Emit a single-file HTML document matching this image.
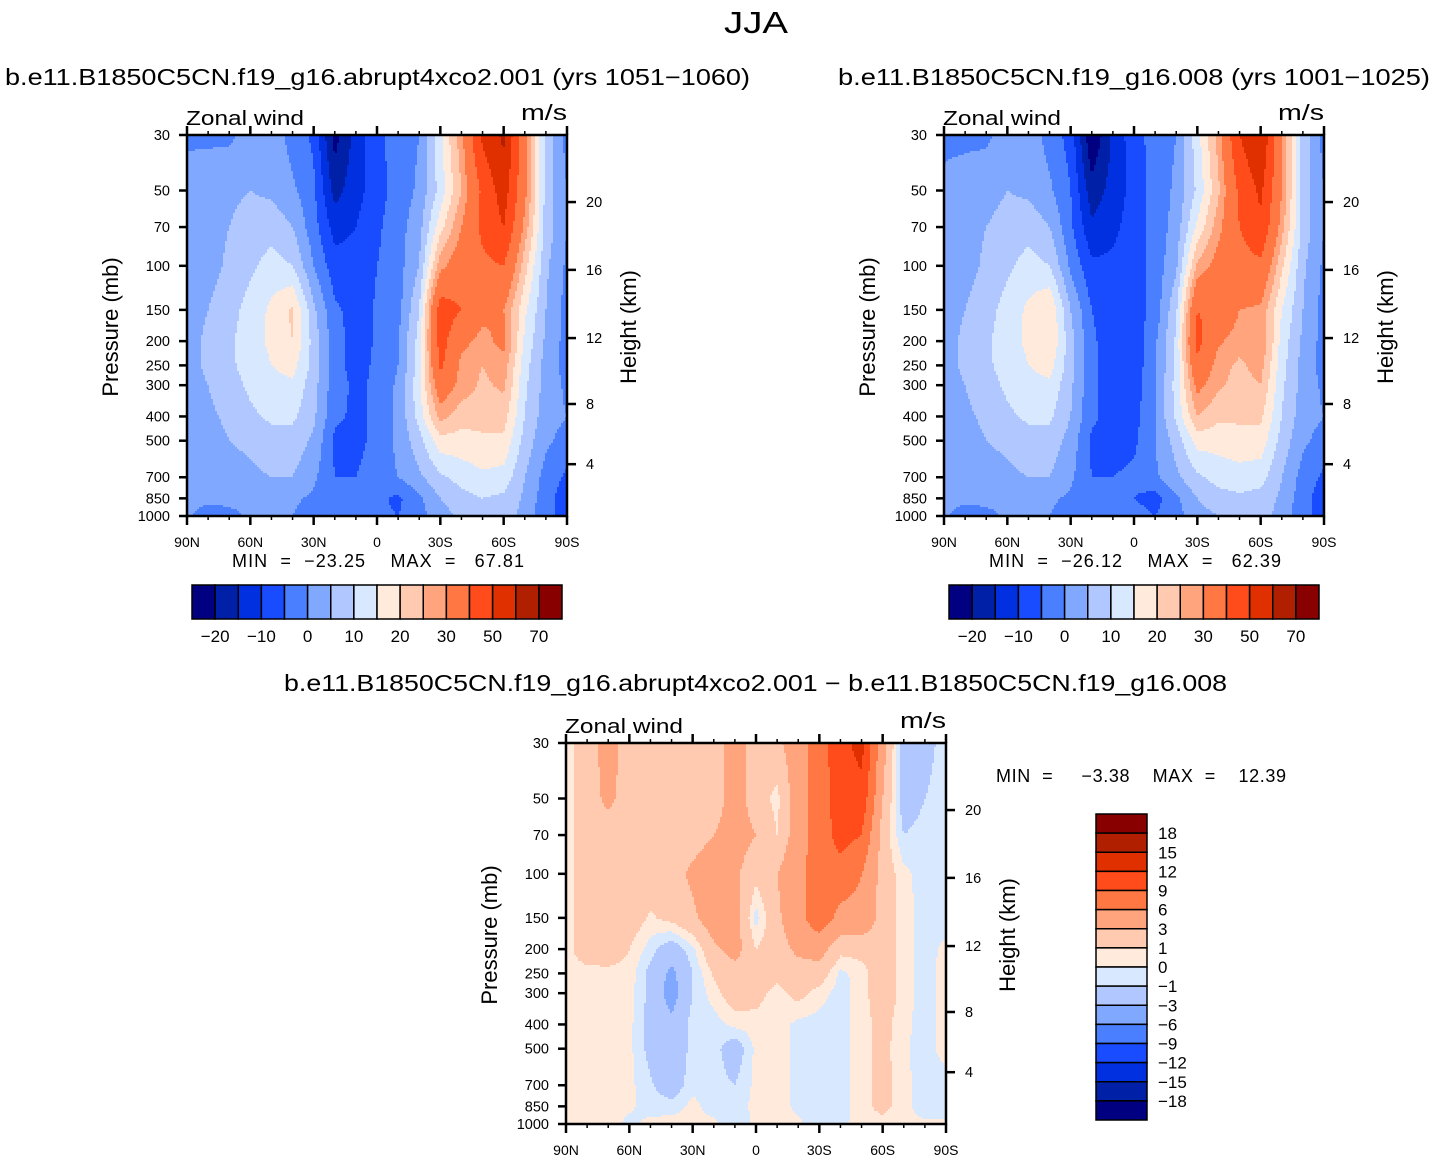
<!DOCTYPE html>
<html><head><meta charset="utf-8"><title>JJA Zonal wind</title>
<style>
html,body{margin:0;padding:0;background:#fff;}
svg{display:block;font-family:"Liberation Sans",sans-serif;}
</style></head>
<body>
<svg id="fig" width="1434" height="1161" viewBox="0 0 1434 1161" xmlns="http://www.w3.org/2000/svg">
<text x="756" y="33" font-size="31" text-anchor="middle" textLength="64" lengthAdjust="spacingAndGlyphs">JJA</text>
<text x="5" y="85" font-size="23" textLength="745" lengthAdjust="spacingAndGlyphs">b.e11.B1850C5CN.f19_g16.abrupt4xco2.001  (yrs  1051−1060)</text>
<text x="838" y="85" font-size="23" textLength="592" lengthAdjust="spacingAndGlyphs">b.e11.B1850C5CN.f19_g16.008  (yrs  1001−1025)</text>
<text x="284" y="691" font-size="23" textLength="943" lengthAdjust="spacingAndGlyphs">b.e11.B1850C5CN.f19_g16.abrupt4xco2.001  −  b.e11.B1850C5CN.f19_g16.008</text>
<g id="layer"></g>
</svg>
<script>
// ---- data ----
const lats = [90,80,70,60,50,40,30,20,10,0,-10,-20,-30,-40,-50,-60,-70,-80,-90];
const plevs = [30,50,70,100,150,200,250,300,400,500,700,850,1000];
const xTickLabels = ["90N","60N","30N","0","30S","60S","90S"];
const pTickLabels = ["30","50","70","100","150","200","250","300","400","500","700","850","1000"];
const hTickLabels = ["4","8","12","16","20"];
const hTickFrac = [0.864,0.706,0.533,0.354,0.176];
const absLevels = [-20,-15,-10,-5,0,5,10,15,20,25,30,40,50,60,70];
const absLabels = ["−20","−10","0","10","20","30","50","70"];
const diffLevels = [-18,-15,-12,-9,-6,-3,-1,0,1,3,6,9,12,15,18];
const diffLabels = ["18","15","12","9","6","3","1","0","−1","−3","−6","−9","−12","−15","−18"];
const palette = ["#000080","#0020a8","#0030e0","#1a4cff","#4a80ff","#80a8ff","#b0c8ff","#d8e9ff","#ffeadb","#ffcab0","#ffa47c","#ff7844","#ff4c1a","#e03000","#b02000","#880000"];

const fieldLeft = [
 [-1,-1,-1,2,3,-2,-6,-22,-13,-6,-3,0,14,28,52,62,32,8,-2],
 [2.5,3,4,5,4,1,-4,-17,-12,-7,-3,1,12,25,42,55,32,8,0],
 [2.5,3,5,7,8,5,-3,-12,-10,-6,-2,3,18,30,42,50,28,8,0],
 [2,3,6,9,12,10,0,-8,-8,-5,-2,5,28,35,38,40,22,6,-1],
 [3,5,8,12,16,21,6,-4,-7,-4.5,-2,10,45,40,32,30,16,5,-2],
 [3,6,9,13,16,20,8,-3,-7,-4.5,0,12,44,32,28,32,14,4,-2],
 [3,6,9,12,15,17,8,-3,-7,-4,0,12,42,28,25,28,12,3,-2],
 [3,5,8,11,13,14,7,-3,-6,-4,1,14,35,28,24,26,11,3,-1],
 [2,4,6,9,11,11,6,-4,-6,-4,1,12,27,22,22,22,10,2,0],
 [2,3,5,6,8,8,4,-6,-7,-3,1,8,18,18,19,19,8,1,-2],
 [2,3,3,4,5,5,1,-5,-5,-2,0,4,9,12,14,13,5,-2,-6],
 [3,2,2,2,2,1,-1,-3,-3,-4,-6,-1,5,8,10,9,4,-3,-8],
 [1,-4,-2,1,1,0,-3,-3,-2,-4,-5,-2,3,6,8,8,3,-4,-6]
];
const fieldRight = [
 [-1,-1,-1,2,3,-2,-7,-25,-14,-7,-3,0,13,27,50,60,30,8,-2],
 [1,2,3,5,4,1,-5,-18,-13,-8,-3,1,11,24,42,52,30,8,0],
 [2.5,3,5,7,8,5,-4,-14,-11,-8,-3,2,16,28,40,48,27,8,0],
 [2,3,6,9,12,10,-1,-9,-9,-8,-3,4,26,33,36,38,21,6,-1],
 [3,5,8,12,16,20,5,-5,-8,-8,-3,9,40,38,30,29,15,5,-2],
 [3,6,9,13,16,20,7,-4,-8,-8,-1,11,43,31,27,30,13,4,-2],
 [3,6,9,12,15,17,7,-4,-8,-8,-1,11,38,27,24,27,12,3,-2],
 [3,5,8,11,13,14,6,-4,-7,-8,0,12,32,26,23,25,11,3,-1],
 [2,4,6,9,11,11,5,-4,-7,-7,0,11,25,21,21,21,10,2,0],
 [2,3,5,6,8,8,3,-6,-7,-6,0,7,17,17,18,18,8,1,-2],
 [2,3,3,4,5,5,1,-5,-5,-4,-1,4,9,12,13,12,5,-2,-6],
 [3,2,2,2,2,1,-1,-4,-4,-5,-7,-1,5,8,9,8,4,-3,-8],
 [1,-4,-2,1,1,0,-3,-4,-2,-3,-5,-2,3,5,7,7,3,-4,-6]
];
const fieldDiff = [
 [0.5,2,4,2,2,2,2,2,4,2,2.5,4.5,7.5,11,13,4,-2,-1.5,-0.5],
 [0.5,2,3.5,2,2,2,2,2,4,2,0.5,4.5,7.5,10.5,11,3,-2,-1,-0.5],
 [0.5,2,2,2,2,2,2,3,4,3,1,4.5,7.5,10,9,2,-1,-0.5,-0.3],
 [0.5,2,2,2,2,2,3.5,4.5,3.5,1.5,3,5,8,8,6,2,0.3,-0.5,-0.5],
 [0.5,2,2,2,0.8,1.5,2.5,4.5,4,-0.5,2.5,5,8,5,5,2,0.5,-0.5,-0.5],
 [0.5,2,2,1,-0.5,-2,-0.3,2.5,4,1,2,3.5,4,1.5,1.5,2,0.5,-0.5,0.3],
 [0.5,0.5,0.6,0.6,-1.5,-3.5,-1,1.2,2,2,1.5,2,2,-0.3,0.5,2,0.5,-0.5,0.5],
 [0.5,0.5,0.5,0.5,-1.5,-4,-1,0.5,2,1.5,0.5,1.5,0.5,-0.5,0.5,2,0.5,-0.5,0.5],
 [0.5,0.5,0.5,0.3,-1.5,-2.5,-0.5,-0.5,0.3,0.5,0.5,-0.3,-0.5,-0.5,0.5,1.5,0.3,-0.5,0.5],
 [0.5,0.5,0.5,0.3,-1.5,-2.5,-0.5,-0.5,-2,0.3,0.5,-0.3,-0.5,-0.5,0.5,1.5,0.2,-0.5,0.5],
 [0.5,0.5,0.5,0.3,-0.8,-2,-0.3,-0.5,-1,0.3,0.5,-0.3,-0.5,-0.5,0.5,1.5,0.3,-0.5,-0.5],
 [0.5,0.5,0.5,0.2,-0.5,-0.5,0.3,-0.5,-0.5,0.3,0.5,-0.3,-0.5,-0.5,0.5,1.5,0.3,-0.5,0],
 [0.5,0.5,0.5,-0.3,0.3,0.5,0.3,0.3,-1,0.3,0.5,0.3,-1,-0.3,0.5,0.5,0.3,0.2,0]
];

// ---- drawing ----
const NS = "http://www.w3.org/2000/svg";
const layer = document.getElementById("layer");
function mk(tag, attrs, parent){
  const e = document.createElementNS(NS, tag);
  for (const k in attrs) e.setAttribute(k, attrs[k]);
  (parent||layer).appendChild(e);
  return e;
}
const LP0 = Math.log(30), LP1 = Math.log(1000);
function classOf(v, levels){ let k=0; while(k<levels.length && v>=levels[k]) k++; return k; }
function sample(field, lat, lp){
  let fx = (90-lat)/10; let i = Math.min(17, Math.floor(fx)); let tx = fx - i;
  let j = 0; while (j < plevs.length-2 && Math.log(plevs[j+1]) < lp) j++;
  const a = Math.log(plevs[j]), b = Math.log(plevs[j+1]);
  let ty = Math.max(0, Math.min(1, (lp-a)/(b-a)));
  const v00=field[j][i], v01=field[j][i+1], v10=field[j+1][i], v11=field[j+1][i+1];
  return (v00*(1-tx)+v01*tx)*(1-ty) + (v10*(1-tx)+v11*tx)*ty;
}

function panel(name, X, Y, field, levels, minmax){
  const W = 380, H = 381;
  const g = mk("g", {});
  
  
  const xScale = lat => X + (90-lat)/180*W;
  const yScale = p => Y + (Math.log(p)-LP0)/(LP1-LP0)*H;
  const cell = 2, nx = W/cell|0, ny = Math.ceil(H/cell);
  const fill = mk("g", {}, g);
  
  
  for (let r=0; r<ny; r++){
    const yy = Y + r*cell + cell/2;
    const lp = LP0 + (yy-Y)/H*(LP1-LP0);
    let runStart = 0, runCls = -1;
    for (let c=0; c<=nx; c++){
      let cls = -2;
      if (c<nx){
        const lat = 90 - (c*cell+cell/2)/W*180;
        cls = classOf(sample(field, lat, lp), levels);
      }
      if (cls !== runCls){
        if (runCls >= 0){
          mk("rect", {x:X+runStart*cell, y:Y+r*cell, width:(c-runStart)*cell+0.4, height:Math.min(cell+0.4, Y+H-(Y+r*cell)), fill:palette[runCls]}, fill);
        }
        runStart = c; runCls = cls;
      }
    }
  }
  const fr = mk("rect", {x:X, y:Y, width:W, height:H, fill:"none", stroke:"#000", "stroke-width":2.5}, g);
  
  
  for (let k=0; k<=18; k++){
    const lat = 90 - k*10, x = xScale(lat), major = k%3===0, L = major?9:4;
    mk("line", {x1:x, x2:x, y1:Y, y2:Y-L, stroke:"#000", "stroke-width":major?2.5:1.5}, g);
    mk("line", {x1:x, x2:x, y1:Y+H, y2:Y+H+L, stroke:"#000", "stroke-width":major?2.5:1.5}, g);
  }
  xTickLabels.forEach((t,k)=>{
    const tx = mk("text", {x:xScale(90-k*30), y:Y+H+31, "font-size":14, "text-anchor":"middle"}, g);
    tx.textContent = t;
    
    
  });
  plevs.forEach((p,k)=>{
    const y = yScale(p);
    mk("line", {x1:X-8, x2:X, y1:y, y2:y, stroke:"#000", "stroke-width":2.5}, g);
    const tx = mk("text", {x:X-17, y:y+5, "font-size":14.5, "text-anchor":"end"}, g);
    tx.textContent = pTickLabels[k];
    
    
  });
  hTickLabels.forEach((t,k)=>{
    const y = Y + hTickFrac[k]*H;
    mk("line", {x1:X+W, x2:X+W+9, y1:y, y2:y, stroke:"#000", "stroke-width":2.5}, g);
    const tx = mk("text", {x:X+W+19, y:y+5, "font-size":14.5}, g);
    tx.textContent = t;
    
    
  });
  const zl = mk("text", {x:X-1, y:Y-10, "font-size":20, textLength:118, lengthAdjust:"spacingAndGlyphs"}, g); zl.textContent = "Zonal wind";
   
  const ul = mk("text", {x:X+W, y:Y-15, "font-size":22, "text-anchor":"end", textLength:46, lengthAdjust:"spacingAndGlyphs"}, g); ul.textContent = "m/s";
   
  const yt = mk("text", {x:0, y:0, "font-size":22, "text-anchor":"middle", transform:`translate(${X-69},${Y+192}) rotate(-90)`}, g);
  yt.textContent = "Pressure  (mb)";
   
  const ht = mk("text", {x:0, y:0, "font-size":22, "text-anchor":"middle", transform:`translate(${X+W+69},${Y+192}) rotate(-90)`}, g);
  ht.textContent = "Height  (km)";
   
  if (minmax){
    const mm = mk("text", {x:minmax[0], y:minmax[1], "font-size":18, textLength:minmax[3], lengthAdjust:"spacing"}, g);
    mm.setAttribute("style","white-space:pre");
    mm.textContent = minmax[2];
     
  }
}

function hbar(name, X, Y){
  const g = mk("g", {});
  
  
  const bw = 370/16;
  palette.forEach((c,k)=>{
    const r = mk("rect", {x:X+k*bw, y:Y, width:bw, height:34, fill:c, stroke:"#000", "stroke-width":1.5}, g);
    
    
  });
  absLabels.forEach((t,k)=>{
    const tx = mk("text", {x:X+(2*k+1)*bw, y:Y+57, "font-size":17, "text-anchor":"middle"}, g);
    tx.textContent = t;
     
  });
}
function vbar(name, X, Y){
  const g = mk("g", {});
  
  
  const bh = 306/16;
  for (let k=0;k<16;k++){
    const r = mk("rect", {x:X, y:Y+k*bh, width:51, height:bh, fill:palette[15-k], stroke:"#000", "stroke-width":1.5}, g);
    
    
  }
  diffLabels.forEach((t,k)=>{
    const tx = mk("text", {x:X+62, y:Y+(k+1)*bh+6, "font-size":17}, g);
    tx.textContent = t;
     
  });
}

panel("left-panel", 187, 135, fieldLeft, absLevels, [232, 567, "MIN  =  −23.25    MAX  =   67.81", 292]);
panel("right-panel", 944, 135, fieldRight, absLevels, [989, 567, "MIN  =  −26.12    MAX  =   62.39", 292]);
panel("diff-panel", 566, 743, fieldDiff, diffLevels, [996, 782, "MIN  =     −3.38    MAX  =    12.39", 290]);
hbar("left-colorbar", 192, 585);
hbar("right-colorbar", 949, 585);
vbar("diff-colorbar", 1096, 814);
</script>
</body></html>
